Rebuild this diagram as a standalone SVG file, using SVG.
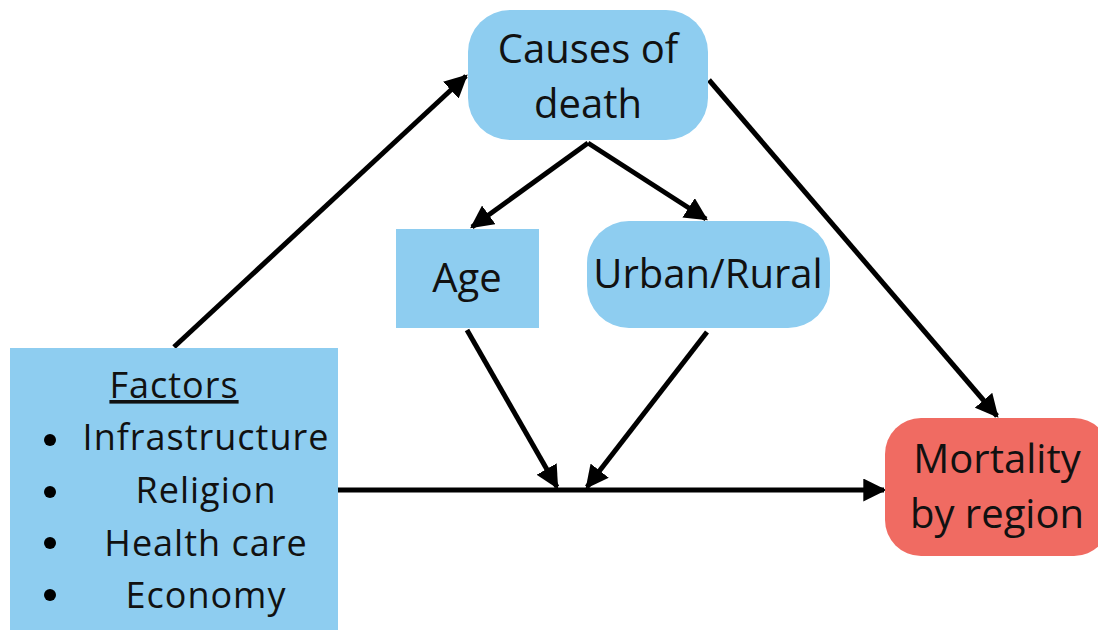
<svg xmlns="http://www.w3.org/2000/svg" width="1098" height="630" viewBox="0 0 1098 630">
<style>
.blue{fill:#8ecdf0}
.red{fill:#f06b62}
text{font-family:"Open Sans","Noto Sans",sans-serif;fill:#111;text-anchor:middle}
.t{font-size:40px}
.f{font-size:36px;letter-spacing:1px}
.c line{stroke:#000;stroke-width:5;marker-end:url(#ah)}
</style>
<defs>
<marker id="ah" viewBox="0 0 10 10" refX="9" refY="5" markerWidth="4.6" markerHeight="4.6" markerUnits="strokeWidth" orient="auto">
<path d="M0,0 L10,5 L0,10 z" fill="#000"/>
</marker>
</defs>
<rect width="1098" height="630" fill="#fff"/>
<g class="c">
<line x1="174" y1="347" x2="466" y2="76"/>
<line x1="709" y1="80" x2="997" y2="416"/>
<line x1="588" y1="143" x2="472" y2="227"/>
<line x1="588" y1="143" x2="706" y2="219"/>
<line x1="467" y1="330" x2="557" y2="487"/>
<line x1="707" y1="332" x2="587" y2="487"/>
<line x1="338" y1="490" x2="884" y2="490"/>
</g>
<g id="causes">
<rect class="blue" x="468" y="10" width="240" height="130" rx="42"/>
<text class="t" x="588" y="63">Causes of</text>
<text class="t" x="588" y="118">death</text>
</g>
<g id="age">
<rect class="blue" x="396" y="229" width="143" height="99"/>
<text class="t" x="467" y="292">Age</text>
</g>
<g id="urban">
<rect class="blue" x="587" y="221" width="243" height="107" rx="42"/>
<text class="t" x="708" y="288">Urban/Rural</text>
</g>
<g id="factors">
<rect class="blue" x="10" y="348" width="328" height="282"/>
<text class="f" x="174" y="398" text-decoration="underline">Factors</text>
<circle cx="50" cy="440" r="6" fill="#000"/>
<circle cx="50" cy="492" r="6" fill="#000"/>
<circle cx="50" cy="543" r="6" fill="#000"/>
<circle cx="50" cy="595" r="6" fill="#000"/>
<text class="f" x="206" y="450">Infrastructure</text>
<text class="f" x="206" y="503">Religion</text>
<text class="f" x="206" y="556">Health care</text>
<text class="f" x="206" y="608">Economy</text>
</g>
<g id="mortality">
<rect class="red" x="885" y="418" width="225" height="138" rx="36"/>
<text class="t" x="997" y="473">Mortality</text>
<text class="t" x="997" y="528">by region</text>
</g>
</svg>
